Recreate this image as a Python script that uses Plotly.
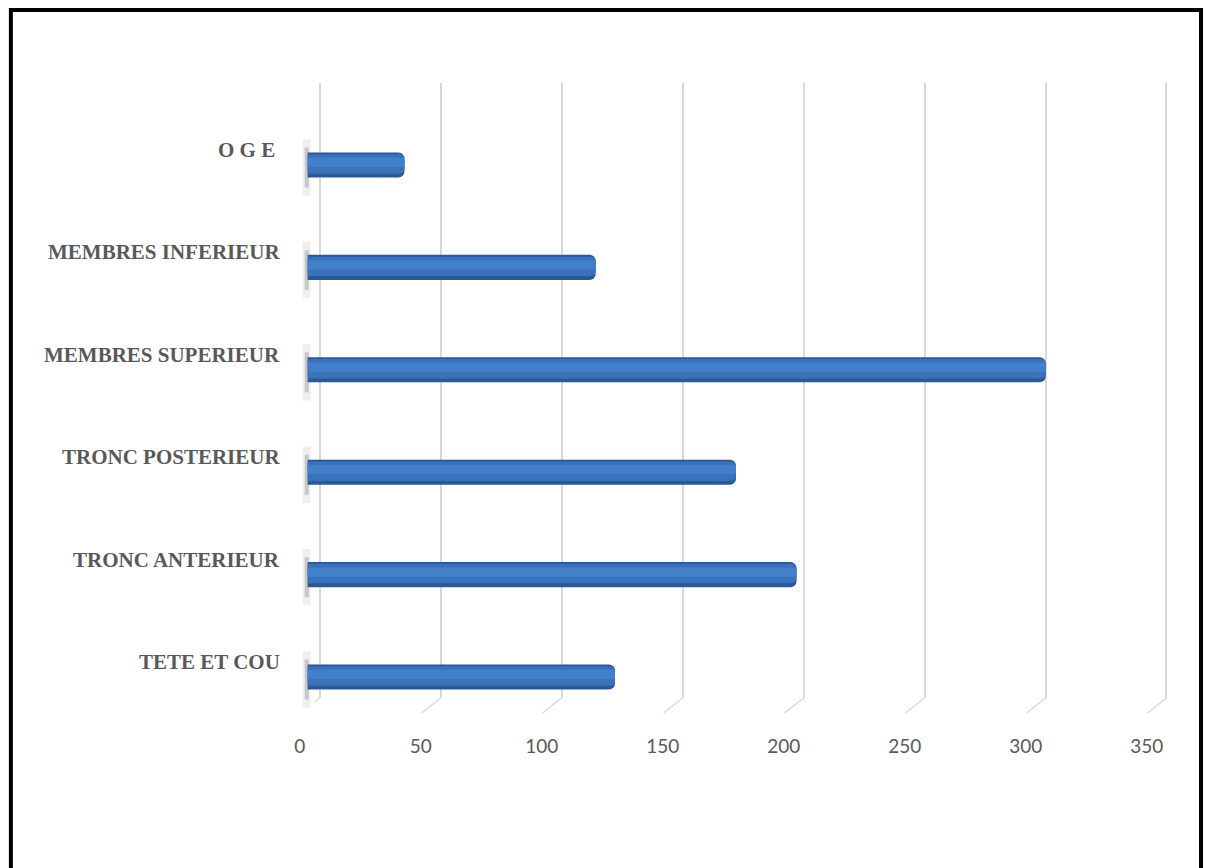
import plotly.graph_objects as go

# ---- data ----
categories = ["TETE ET COU", "TRONC ANTERIEUR", "TRONC POSTERIEUR",
              "MEMBRES SUPERIEUR", "MEMBRES INFERIEUR", "O G E "]
values = [127, 202, 177, 305, 119, 40]
tick_values = [0, 50, 100, 150, 200, 250, 300, 350]
tick_labels = ["0", "50", "100", "150", "200", "250", "300", "350"]

W, H = 1215, 868
PXU = 2.446          # pixels per unit
XR = [-2, 352]       # value range


def px_x(p):
    return p / W


def px_y(p):
    return 1 - p / H


def xdomain(zero_px):
    return [px_x(zero_px + PXU * XR[0]), px_x(zero_px + PXU * XR[1])]


fig = go.Figure()

# bars: dark body, mid band, light highlight (pseudo-3D cylinder look)
fig.add_trace(go.Bar(
    y=categories, x=values, orientation="h", xaxis="x2", yaxis="y2",
    width=0.245, marker=dict(color="#2c5894", line=dict(width=0), cornerradius=6),
    hoverinfo="x+y", showlegend=False))
fig.add_trace(go.Bar(
    y=categories, x=values, orientation="h", xaxis="x2", yaxis="y2",
    width=0.19, offset=-0.085,
    marker=dict(color="#3a71bb", line=dict(width=0), cornerradius=5),
    hoverinfo="skip", showlegend=False))
fig.add_trace(go.Bar(
    y=categories, x=values, orientation="h", xaxis="x2", yaxis="y2",
    width=0.09, offset=-0.02,
    marker=dict(color="#4280cc", line=dict(width=0), cornerradius=3),
    hoverinfo="skip", showlegend=False))

# invisible traces to activate the grid / tick-label axes
fig.add_trace(go.Scatter(x=[0], y=[0], xaxis="x", yaxis="y", mode="markers",
                         marker=dict(opacity=0), hoverinfo="skip", showlegend=False))
fig.add_trace(go.Scatter(x=[0], y=[0], xaxis="x3", yaxis="y3", mode="markers",
                         marker=dict(opacity=0), hoverinfo="skip", showlegend=False))

axis_off = dict(showgrid=False, zeroline=False, showline=False, showticklabels=False, ticks="")

shapes = []
# floor diagonals of the 3D grid
for v in tick_values:
    shapes.append(dict(type="line", xref="x", xsizemode="pixel", xanchor=v, x0=-19, x1=0,
                       yref="paper", ysizemode="pixel", yanchor=px_y(698), y0=-15, y1=0,
                       line=dict(color="#d9d9d9", width=1.5), layer="below"))
# front edge of the left wall
shapes.append(dict(type="line", xref="x", xsizemode="pixel", xanchor=0, x0=-20, x1=-20,
                   yref="paper", y0=px_y(713), y1=px_y(97),
                   line=dict(color="#d9d9d9", width=1.5), layer="below"))
# bar shadows on the left wall
for c in categories:
    i = categories.index(c)
    shapes.append(dict(type="rect", xref="paper", x0=px_x(305), x1=px_x(313),
                       yref="y2", y0=i - 0.3, y1=i + 0.25,
                       fillcolor="rgba(120,120,120,0.12)", line=dict(width=0), layer="below"))
    shapes.append(dict(type="rect", xref="paper", x0=px_x(307), x1=px_x(311),
                       yref="y2", y0=i - 0.22, y1=i + 0.17,
                       fillcolor="rgba(80,80,80,0.25)", line=dict(width=0), layer="below"))
# outer frame (bottom edge runs off the picture, as in the reference)
shapes.append(dict(type="rect", xref="paper", yref="paper",
                   x0=px_x(10), x1=px_x(1213), y0=px_y(10), y1=px_y(880),
                   line=dict(color="black", width=4), fillcolor="rgba(0,0,0,0)"))

annotations = [dict(text=f"<b>{c}</b>", x=px_x(284), xref="paper", xanchor="right",
                    y=c, yref="y2", yshift=15, showarrow=False,
                    font=dict(family="Liberation Serif, Times New Roman, serif",
                              size=21, color="#595959"))
               for c in categories]

fig.update_layout(
    width=W, height=H, autosize=False,
    margin=dict(l=0, r=0, t=0, b=0),
    paper_bgcolor="white", plot_bgcolor="rgba(0,0,0,0)",
    barmode="overlay",
    xaxis=dict(domain=xdomain(322), range=XR, anchor="y", showgrid=True,
               gridcolor="#d9d9d9", gridwidth=1.5, tickvals=tick_values,
               zeroline=False, showline=False, showticklabels=False, ticks=""),
    yaxis=dict(domain=[px_y(698), px_y(83)], range=[0, 1], anchor="x", **axis_off),
    xaxis2=dict(domain=xdomain(310), range=XR, anchor="y2", **axis_off),
    yaxis2=dict(domain=[px_y(728.2), px_y(113.8)], range=[-0.5, 5.5], anchor="x2",
                type="category", categoryorder="array", categoryarray=categories, **axis_off),
    xaxis3=dict(domain=xdomain(302), range=XR, anchor="y3", showgrid=False, zeroline=False,
                showline=False, ticks="", tickvals=tick_values, ticktext=tick_labels,
                tickfont=dict(family="Lato, Carlito, Calibri, sans-serif", size=19, color="#595959")),
    yaxis3=dict(domain=[px_y(733), px_y(720)], range=[0, 1], anchor="x3", **axis_off),
    shapes=shapes,
    annotations=annotations,
)

fig.write_html("out.html", config={"displayModeBar": False},
               post_script="document.body.style.margin='0';document.body.style.overflow='hidden';")
